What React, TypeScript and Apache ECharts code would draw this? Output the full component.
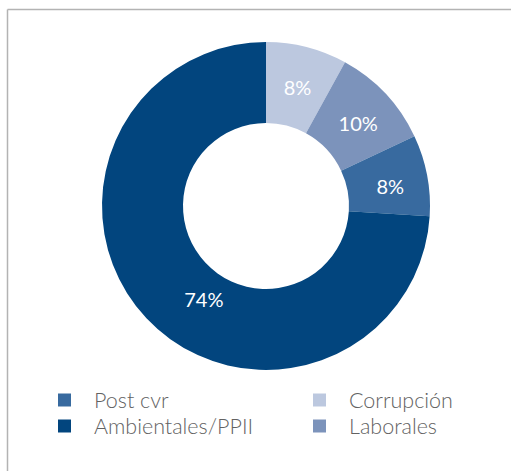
import React, { useEffect, useRef } from "react";
import * as echarts from "echarts";

const categories = ["Corrupción", "Laborales", "Post cvr", "Ambientales/PPII"];
const values = [8, 10, 8, 74];
const colors = ["#bcc8df", "#7c93bb", "#386a9f", "#02457e"];
const legendLeftCol = ["Post cvr", "Ambientales/PPII"];
const legendRightCol = ["Corrupción", "Laborales"];

export default function App() {
  const ref = useRef<HTMLDivElement>(null);
  useEffect(() => {
    if (!ref.current) return;
    const chart = echarts.init(ref.current, null, { renderer: "svg" });
    const legendCommon = {
      orient: "vertical",
      top: 389,
      padding: 0,
      itemWidth: 13,
      itemHeight: 13,
      itemGap: 4,
      icon: "rect",
      textStyle: {
        color: "#626262",
        fontSize: 21.5,
        fontFamily: "Lato",
        fontWeight: 300,
        lineHeight: 21,
        padding: [0, 0, 0, 18],
      },
    };
    chart.setOption({
      animation: false,
      backgroundColor: "#ffffff",
      color: colors,
      graphic: [
        {
          type: "line",
          shape: { x1: 7.5, y1: 9.5, x2: 511, y2: 9.5 },
          style: { stroke: "#b3b3b3", lineWidth: 1.5 },
        },
        {
          type: "line",
          shape: { x1: 7.5, y1: 9.5, x2: 7.5, y2: 471 },
          style: { stroke: "#b3b3b3", lineWidth: 1.5 },
        },
      ],
      legend: [
        { ...legendCommon, left: 58, data: legendLeftCol },
        { ...legendCommon, left: 313, data: legendRightCol },
      ],
      series: [
        {
          type: "pie",
          center: [266, 206],
          radius: [83, 164],
          startAngle: 90,
          clockwise: true,
          avoidLabelOverlap: false,
          label: {
            show: true,
            position: "inside",
            formatter: "{c}%",
            color: "#ffffff",
            fontSize: 20,
            fontFamily: "Lato",
            fontWeight: "normal",
          },
          labelLayout: (p: any) =>
            p.dataIndex === 3 ? { dx: 30, dy: 6 } : { dy: 4 },
          labelLine: { show: false },
          emphasis: { disabled: true },
          itemStyle: { borderWidth: 0 },
          data: categories.map((name, i) => ({ name, value: values[i] })),
        },
      ],
    });
    return () => chart.dispose();
  }, []);
  return (
    <div
      ref={ref}
      style={{ position: "fixed", left: 0, top: 0, width: 511, height: 471 }}
    />
  );
}
